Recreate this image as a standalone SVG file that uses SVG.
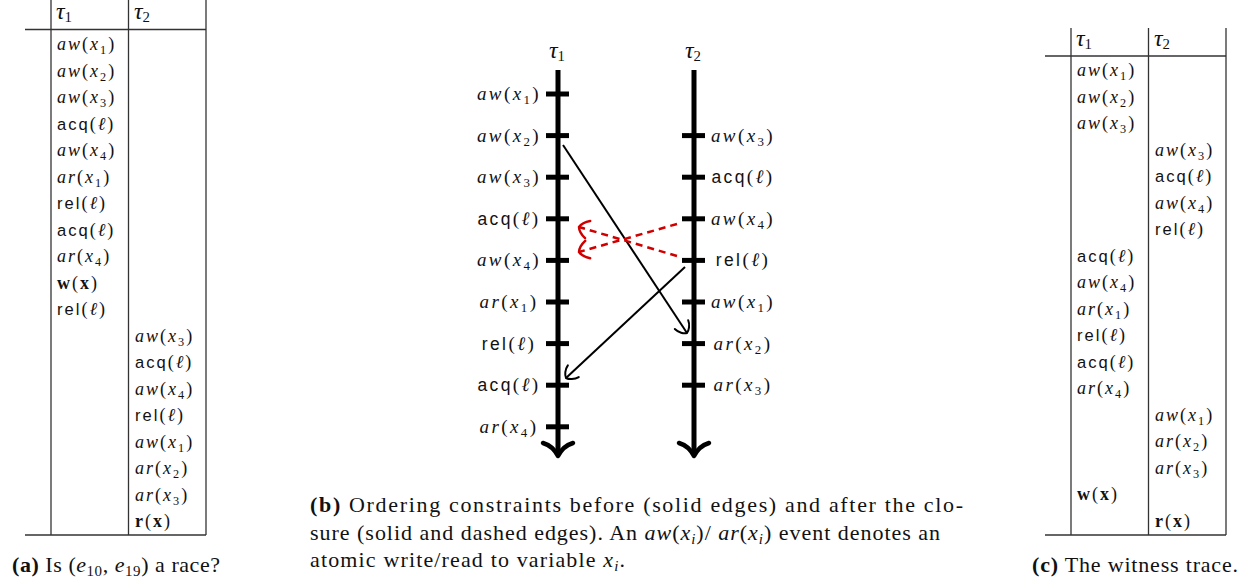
<svg xmlns="http://www.w3.org/2000/svg" width="1247" height="579" viewBox="0 0 1247 579">
<style>
text{font-family:"Liberation Serif",serif;fill:#111}
.tb{font-size:18px;letter-spacing:2px}
.dg{font-size:19px;letter-spacing:2.4px}
.hd{font-size:24px}
.hd .sb{font-size:0.62em}
.cap{font-size:22px}
.i{font-style:italic}
.sf{font-family:"Liberation Sans",sans-serif;font-size:0.92em}
.sb{font-size:0.68em}
.b{font-weight:bold}
.rule{stroke:#333;stroke-width:1.3;fill:none}
.axis{stroke:#000;stroke-width:5;fill:none}
.tick{stroke:#000;stroke-width:5}
.ahead{stroke:#000;stroke-width:4.5;fill:none;stroke-linecap:round;stroke-linejoin:round}
.edge{stroke:#000;stroke-width:2;fill:none}
.dash{stroke:#d00000;stroke-width:2.5;fill:none;stroke-dasharray:7 5}
</style>
<defs>
<marker id="arrK" markerUnits="userSpaceOnUse" markerWidth="30" markerHeight="30" viewBox="-15 -15 30 30" refX="0" refY="0" orient="auto" overflow="visible">
<path d="M-10,-8 C-5,-7 -1,-3 0,0 C-1,3 -5,7 -10,8" fill="none" stroke="#000" stroke-width="2" stroke-linecap="round"/>
</marker>
<marker id="arrR" markerUnits="userSpaceOnUse" markerWidth="30" markerHeight="30" viewBox="-15 -15 30 30" refX="0" refY="0" orient="auto" overflow="visible">
<path d="M-9,-9 C-5,-7 -1,-3 0,0 C-1,3 -5,7 -9,9" fill="none" stroke="#d00000" stroke-width="2.5" stroke-linecap="round"/>
</marker>
</defs>

<!-- (a) table -->
<g id="tableA">
<line class="rule" x1="51" y1="0" x2="51" y2="535"/>
<line class="rule" x1="128.5" y1="0" x2="128.5" y2="535"/>
<line class="rule" x1="206" y1="0" x2="206" y2="535"/>
<line class="rule" x1="25" y1="29.5" x2="206" y2="29.5"/>
<line class="rule" x1="25" y1="535" x2="206" y2="535"/>
<text class="hd" x="56" y="19"><tspan class="i">τ</tspan><tspan class="sb" dy="3">1</tspan></text>
<text class="hd" x="134" y="19"><tspan class="i">τ</tspan><tspan class="sb" dy="3">2</tspan></text>
<text class="tb" x="57" y="50"><tspan class="i">aw</tspan>(<tspan class="i">x</tspan><tspan class="sb" dy="4">1</tspan><tspan dy="-4">)</tspan></text>
<text class="tb" x="57" y="76.5"><tspan class="i">aw</tspan>(<tspan class="i">x</tspan><tspan class="sb" dy="4">2</tspan><tspan dy="-4">)</tspan></text>
<text class="tb" x="57" y="103"><tspan class="i">aw</tspan>(<tspan class="i">x</tspan><tspan class="sb" dy="4">3</tspan><tspan dy="-4">)</tspan></text>
<text class="tb" x="57" y="129.5"><tspan class="sf">acq</tspan>(<tspan class="i">ℓ</tspan>)</text>
<text class="tb" x="57" y="156"><tspan class="i">aw</tspan>(<tspan class="i">x</tspan><tspan class="sb" dy="4">4</tspan><tspan dy="-4">)</tspan></text>
<text class="tb" x="57" y="182.5"><tspan class="i">ar</tspan>(<tspan class="i">x</tspan><tspan class="sb" dy="4">1</tspan><tspan dy="-4">)</tspan></text>
<text class="tb" x="57" y="209"><tspan class="sf">rel</tspan>(<tspan class="i">ℓ</tspan>)</text>
<text class="tb" x="57" y="235.5"><tspan class="sf">acq</tspan>(<tspan class="i">ℓ</tspan>)</text>
<text class="tb" x="57" y="262"><tspan class="i">ar</tspan>(<tspan class="i">x</tspan><tspan class="sb" dy="4">4</tspan><tspan dy="-4">)</tspan></text>
<text class="tb" x="57" y="288.5"><tspan class="b">w</tspan>(<tspan class="b">x</tspan>)</text>
<text class="tb" x="57" y="315"><tspan class="sf">rel</tspan>(<tspan class="i">ℓ</tspan>)</text>
<text class="tb" x="135" y="341.5"><tspan class="i">aw</tspan>(<tspan class="i">x</tspan><tspan class="sb" dy="4">3</tspan><tspan dy="-4">)</tspan></text>
<text class="tb" x="135" y="368"><tspan class="sf">acq</tspan>(<tspan class="i">ℓ</tspan>)</text>
<text class="tb" x="135" y="394.5"><tspan class="i">aw</tspan>(<tspan class="i">x</tspan><tspan class="sb" dy="4">4</tspan><tspan dy="-4">)</tspan></text>
<text class="tb" x="135" y="421"><tspan class="sf">rel</tspan>(<tspan class="i">ℓ</tspan>)</text>
<text class="tb" x="135" y="447.5"><tspan class="i">aw</tspan>(<tspan class="i">x</tspan><tspan class="sb" dy="4">1</tspan><tspan dy="-4">)</tspan></text>
<text class="tb" x="135" y="474"><tspan class="i">ar</tspan>(<tspan class="i">x</tspan><tspan class="sb" dy="4">2</tspan><tspan dy="-4">)</tspan></text>
<text class="tb" x="135" y="500.5"><tspan class="i">ar</tspan>(<tspan class="i">x</tspan><tspan class="sb" dy="4">3</tspan><tspan dy="-4">)</tspan></text>
<text class="tb" x="135" y="527"><tspan class="b">r</tspan>(<tspan class="b">x</tspan>)</text>
<text class="cap" x="12" y="572" textLength="208" lengthAdjust="spacing"><tspan class="b">(a)</tspan> Is (<tspan class="i">e</tspan><tspan class="sb" dy="4">10</tspan><tspan dy="-4">, </tspan><tspan class="i">e</tspan><tspan class="sb" dy="4">19</tspan><tspan dy="-4">) a race?</tspan></text>
</g>

<!-- (b) diagram -->
<g id="thread1">
<text class="hd" x="557" y="58" text-anchor="middle"><tspan class="i">τ</tspan><tspan class="sb" dy="3">1</tspan></text>
<line class="axis" x1="558" y1="70" x2="558" y2="455"/>
<path class="ahead" d="M543,443 Q553,446 558,456 Q563,446 573,443"/>
<line class="tick" x1="546" y1="94" x2="569" y2="94"/>
<line class="tick" x1="546" y1="135.6" x2="569" y2="135.6"/>
<line class="tick" x1="546" y1="177.2" x2="569" y2="177.2"/>
<line class="tick" x1="546" y1="218.8" x2="569" y2="218.8"/>
<line class="tick" x1="546" y1="260.4" x2="569" y2="260.4"/>
<line class="tick" x1="546" y1="302" x2="569" y2="302"/>
<line class="tick" x1="546" y1="343.6" x2="569" y2="343.6"/>
<line class="tick" x1="546" y1="385.2" x2="569" y2="385.2"/>
<line class="tick" x1="546" y1="426.8" x2="569" y2="426.8"/>
<text class="dg" x="509" y="100" text-anchor="middle"><tspan class="i">aw</tspan>(<tspan class="i">x</tspan><tspan class="sb" dy="4">1</tspan><tspan dy="-4">)</tspan></text>
<text class="dg" x="509" y="141.6" text-anchor="middle"><tspan class="i">aw</tspan>(<tspan class="i">x</tspan><tspan class="sb" dy="4">2</tspan><tspan dy="-4">)</tspan></text>
<text class="dg" x="509" y="183.2" text-anchor="middle"><tspan class="i">aw</tspan>(<tspan class="i">x</tspan><tspan class="sb" dy="4">3</tspan><tspan dy="-4">)</tspan></text>
<text class="dg" x="509" y="224.8" text-anchor="middle"><tspan class="sf">acq</tspan>(<tspan class="i">ℓ</tspan>)</text>
<text class="dg" x="509" y="266.4" text-anchor="middle"><tspan class="i">aw</tspan>(<tspan class="i">x</tspan><tspan class="sb" dy="4">4</tspan><tspan dy="-4">)</tspan></text>
<text class="dg" x="509" y="308" text-anchor="middle"><tspan class="i">ar</tspan>(<tspan class="i">x</tspan><tspan class="sb" dy="4">1</tspan><tspan dy="-4">)</tspan></text>
<text class="dg" x="509" y="349.6" text-anchor="middle"><tspan class="sf">rel</tspan>(<tspan class="i">ℓ</tspan>)</text>
<text class="dg" x="509" y="391.2" text-anchor="middle"><tspan class="sf">acq</tspan>(<tspan class="i">ℓ</tspan>)</text>
<text class="dg" x="509" y="432.8" text-anchor="middle"><tspan class="i">ar</tspan>(<tspan class="i">x</tspan><tspan class="sb" dy="4">4</tspan><tspan dy="-4">)</tspan></text>
</g>
<g id="thread2">
<text class="hd" x="693" y="58" text-anchor="middle"><tspan class="i">τ</tspan><tspan class="sb" dy="3">2</tspan></text>
<line class="axis" x1="694" y1="70" x2="694" y2="455"/>
<path class="ahead" d="M679,443 Q689,446 694,456 Q699,446 709,443"/>
<line class="tick" x1="682" y1="135.6" x2="705" y2="135.6"/>
<line class="tick" x1="682" y1="177.2" x2="705" y2="177.2"/>
<line class="tick" x1="682" y1="218.8" x2="705" y2="218.8"/>
<line class="tick" x1="682" y1="260.4" x2="705" y2="260.4"/>
<line class="tick" x1="682" y1="302" x2="705" y2="302"/>
<line class="tick" x1="682" y1="343.6" x2="705" y2="343.6"/>
<line class="tick" x1="682" y1="385.2" x2="705" y2="385.2"/>
<text class="dg" x="743" y="141.6" text-anchor="middle"><tspan class="i">aw</tspan>(<tspan class="i">x</tspan><tspan class="sb" dy="4">3</tspan><tspan dy="-4">)</tspan></text>
<text class="dg" x="743" y="183.2" text-anchor="middle"><tspan class="sf">acq</tspan>(<tspan class="i">ℓ</tspan>)</text>
<text class="dg" x="743" y="224.8" text-anchor="middle"><tspan class="i">aw</tspan>(<tspan class="i">x</tspan><tspan class="sb" dy="4">4</tspan><tspan dy="-4">)</tspan></text>
<text class="dg" x="743" y="266.4" text-anchor="middle"><tspan class="sf">rel</tspan>(<tspan class="i">ℓ</tspan>)</text>
<text class="dg" x="743" y="308" text-anchor="middle"><tspan class="i">aw</tspan>(<tspan class="i">x</tspan><tspan class="sb" dy="4">1</tspan><tspan dy="-4">)</tspan></text>
<text class="dg" x="743" y="349.6" text-anchor="middle"><tspan class="i">ar</tspan>(<tspan class="i">x</tspan><tspan class="sb" dy="4">2</tspan><tspan dy="-4">)</tspan></text>
<text class="dg" x="743" y="391.2" text-anchor="middle"><tspan class="i">ar</tspan>(<tspan class="i">x</tspan><tspan class="sb" dy="4">3</tspan><tspan dy="-4">)</tspan></text>
</g>
<g id="connectors">
<line class="edge" x1="563" y1="145" x2="687" y2="333" marker-end="url(#arrK)"/>
<line class="edge" x1="685" y1="267" x2="566" y2="378" marker-end="url(#arrK)"/>
<line class="dash" x1="677" y1="224" x2="579" y2="252" marker-end="url(#arrR)"/>
<line class="dash" x1="677" y1="256" x2="579" y2="227" marker-end="url(#arrR)"/>
</g>
<g id="captionB">
<text class="cap" x="310" y="512" textLength="653" lengthAdjust="spacing"><tspan class="b">(b)</tspan> Ordering constraints before (solid edges) and after the clo-</text>
<text class="cap" x="310" y="540" textLength="630" lengthAdjust="spacing">sure (solid and dashed edges). An <tspan class="i">aw</tspan>(<tspan class="i">x</tspan><tspan class="sb i" dy="4">i</tspan><tspan dy="-4">)/ </tspan><tspan class="i">ar</tspan>(<tspan class="i">x</tspan><tspan class="sb i" dy="4">i</tspan><tspan dy="-4">) event denotes an</tspan></text>
<text class="cap" x="310" y="567" textLength="315" lengthAdjust="spacing">atomic write/read to variable <tspan class="i">x</tspan><tspan class="sb i" dy="4">i</tspan><tspan dy="-4">.</tspan></text>
</g>

<!-- (c) table -->
<g id="tableC">
<line class="rule" x1="1071" y1="28" x2="1071" y2="535"/>
<line class="rule" x1="1148.5" y1="28" x2="1148.5" y2="535"/>
<line class="rule" x1="1226" y1="28" x2="1226" y2="535"/>
<line class="rule" x1="1045" y1="56" x2="1226" y2="56"/>
<line class="rule" x1="1045" y1="535" x2="1226" y2="535"/>
<text class="hd" x="1076" y="46"><tspan class="i">τ</tspan><tspan class="sb" dy="3">1</tspan></text>
<text class="hd" x="1154" y="46"><tspan class="i">τ</tspan><tspan class="sb" dy="3">2</tspan></text>
<text class="tb" x="1077" y="76"><tspan class="i">aw</tspan>(<tspan class="i">x</tspan><tspan class="sb" dy="4">1</tspan><tspan dy="-4">)</tspan></text>
<text class="tb" x="1077" y="102.5"><tspan class="i">aw</tspan>(<tspan class="i">x</tspan><tspan class="sb" dy="4">2</tspan><tspan dy="-4">)</tspan></text>
<text class="tb" x="1077" y="129"><tspan class="i">aw</tspan>(<tspan class="i">x</tspan><tspan class="sb" dy="4">3</tspan><tspan dy="-4">)</tspan></text>
<text class="tb" x="1155" y="155.5"><tspan class="i">aw</tspan>(<tspan class="i">x</tspan><tspan class="sb" dy="4">3</tspan><tspan dy="-4">)</tspan></text>
<text class="tb" x="1155" y="182"><tspan class="sf">acq</tspan>(<tspan class="i">ℓ</tspan>)</text>
<text class="tb" x="1155" y="208.5"><tspan class="i">aw</tspan>(<tspan class="i">x</tspan><tspan class="sb" dy="4">4</tspan><tspan dy="-4">)</tspan></text>
<text class="tb" x="1155" y="235"><tspan class="sf">rel</tspan>(<tspan class="i">ℓ</tspan>)</text>
<text class="tb" x="1077" y="261.5"><tspan class="sf">acq</tspan>(<tspan class="i">ℓ</tspan>)</text>
<text class="tb" x="1077" y="288"><tspan class="i">aw</tspan>(<tspan class="i">x</tspan><tspan class="sb" dy="4">4</tspan><tspan dy="-4">)</tspan></text>
<text class="tb" x="1077" y="314.5"><tspan class="i">ar</tspan>(<tspan class="i">x</tspan><tspan class="sb" dy="4">1</tspan><tspan dy="-4">)</tspan></text>
<text class="tb" x="1077" y="341"><tspan class="sf">rel</tspan>(<tspan class="i">ℓ</tspan>)</text>
<text class="tb" x="1077" y="367.5"><tspan class="sf">acq</tspan>(<tspan class="i">ℓ</tspan>)</text>
<text class="tb" x="1077" y="394"><tspan class="i">ar</tspan>(<tspan class="i">x</tspan><tspan class="sb" dy="4">4</tspan><tspan dy="-4">)</tspan></text>
<text class="tb" x="1155" y="420.5"><tspan class="i">aw</tspan>(<tspan class="i">x</tspan><tspan class="sb" dy="4">1</tspan><tspan dy="-4">)</tspan></text>
<text class="tb" x="1155" y="447"><tspan class="i">ar</tspan>(<tspan class="i">x</tspan><tspan class="sb" dy="4">2</tspan><tspan dy="-4">)</tspan></text>
<text class="tb" x="1155" y="473.5"><tspan class="i">ar</tspan>(<tspan class="i">x</tspan><tspan class="sb" dy="4">3</tspan><tspan dy="-4">)</tspan></text>
<text class="tb" x="1077" y="500"><tspan class="b">w</tspan>(<tspan class="b">x</tspan>)</text>
<text class="tb" x="1155" y="526.5"><tspan class="b">r</tspan>(<tspan class="b">x</tspan>)</text>
<text class="cap" x="1032" y="572" textLength="206" lengthAdjust="spacing"><tspan class="b">(c)</tspan> The witness trace.</text>
</g>
</svg>
